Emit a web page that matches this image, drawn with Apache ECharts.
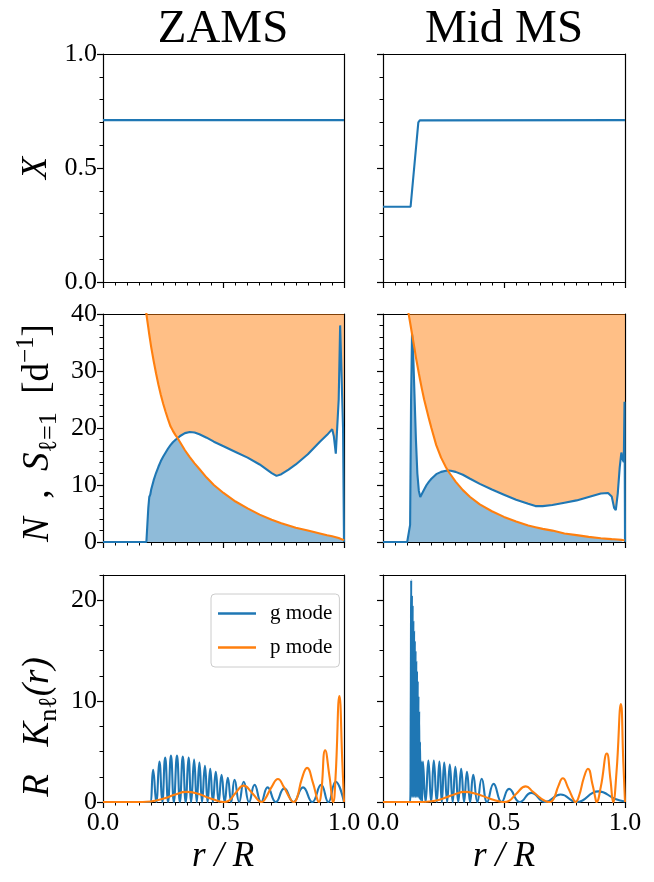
<!DOCTYPE html>
<html><head><meta charset="utf-8">
<script src="https://cdn.jsdelivr.net/npm/echarts@6/dist/echarts.min.js"></script>
<style>html,body{margin:0;padding:0;background:#fff}#c{width:654px;height:882px}</style>
</head><body><div id="c"></div>
<script>
// ---------------- DATA ----------------
const panelTitles = ['ZAMS', 'Mid MS'];
const xTicks = [0, 0.5, 1.0];

// Row 1: hydrogen mass fraction X(r)
const X_zams_r = [0, 1];
const X_zams   = [0.71, 0.71];
const X_mid_r  = [0, 0.114, 0.146, 0.152, 1];
const X_mid    = [0.33, 0.33, 0.70, 0.709, 0.71];

// Row 2: N and S_l=1 on a common grid (null = above plot)
const NS_zams_r = [0,0.10,0.17,0.18,0.184,0.188,0.192,0.196,0.20,0.21,0.22,0.23,0.24,0.25,0.26,0.27,0.28,0.29,0.30,0.31,0.32,0.34,0.36,0.38,0.40,0.43,0.46,0.50,0.55,0.60,0.65,0.70,0.72,0.74,0.77,0.80,0.85,0.90,0.93,0.951,0.958,0.966,0.972,0.978,0.984,0.99,0.996,1.0];
const N_zams    = [0,0,0,0,0,6,7.9,8.3,9.2,10.8,12.1,13.2,14.2,15.0,15.7,16.4,17.0,17.5,17.9,18.2,18.6,19.1,19.3,19.2,18.9,18.3,17.6,16.8,15.8,14.8,13.6,12.1,11.6,11.9,12.7,13.6,15.4,17.6,18.8,19.8,18.5,15.5,15.2,25,38,38.3,20,0];
const S_zams    = [null,null,45,40,38.8,37.6,36.4,35.3,34.2,31.8,29.6,27.6,25.8,24.2,22.8,21.5,20.3,19.5,18.8,18.2,17.5,16.1,14.9,13.8,12.8,11.3,10.0,8.6,7.1,5.9,4.8,3.9,3.6,3.3,2.9,2.5,2.0,1.5,1.2,1.0,0.9,0.85,0.8,0.7,0.6,0.5,0.35,0.3];

const NS_mid_r = [0,0.10,0.104,0.108,0.112,0.116,0.120,0.124,0.130,0.136,0.142,0.148,0.154,0.16,0.17,0.18,0.19,0.20,0.22,0.24,0.26,0.27,0.28,0.30,0.33,0.36,0.40,0.45,0.50,0.55,0.60,0.63,0.66,0.70,0.75,0.80,0.85,0.90,0.93,0.945,0.955,0.962,0.97,0.978,0.985,0.99,0.995,0.998,1.0];
const N_mid    = [0,0,0,0,3,25,36.5,34,26,18,12,9.0,7.9,8.2,9.2,10.0,10.6,11.1,11.9,12.3,12.5,12.55,12.5,12.3,11.8,11.1,10.2,9.2,8.3,7.4,6.7,6.3,6.3,6.5,6.9,7.3,7.9,8.5,8.6,8.0,6.0,5.6,8.5,13,15.7,14.5,14,24.6,0];
const S_mid    = [null,null,40.5,39.5,38.5,37.5,36.5,35.5,34,32.4,31,29.6,28.3,27,25,23.3,21.6,20,17,14.8,13.1,12.4,11.8,10.6,9.1,7.9,6.6,5.4,4.4,3.6,2.9,2.6,2.3,2.0,1.5,1.2,0.9,0.65,0.55,0.5,0.48,0.46,0.44,0.4,0.37,0.35,0.32,0.3,0.3];

// Row 3: kernels R K_nl(r), [r, K]
const Kg_zams = [[0,0],[0.19,0],[0.196,0],[0.208,3.2],[0.221,0],[0.234,4.0],[0.246,0],[0.258,4.4],[0.270,0],[0.282,4.6],[0.294,0],[0.307,4.6],[0.319,0],[0.331,4.5],[0.343,0],[0.355,4.4],[0.366,0],[0.378,4.2],[0.389,0],[0.400,3.9],[0.411,0],[0.423,3.6],[0.434,0],[0.445,3.3],[0.456,0],[0.468,3.0],[0.480,0],[0.492,2.7],[0.505,0],[0.518,2.4],[0.532,0],[0.546,2.2],[0.565,0],[0.584,2.0],[0.606,0],[0.629,1.7],[0.656,0],[0.683,1.45],[0.717,0],[0.752,1.35],[0.79,0],[0.830,1.45],[0.868,0],[0.905,1.7],[0.935,0],[0.965,2.0],[1.0,0]];
const Kp_zams = [[0,0],[0.15,0],[0.18,0.02],[0.22,0.15],[0.26,0.4],[0.30,0.75],[0.345,1.0],[0.39,0.85],[0.44,0.4],[0.48,0.08],[0.50,0],[0.52,0.1],[0.55,0.9],[0.584,1.62],[0.615,1.0],[0.645,0.15],[0.657,0],[0.67,0.2],[0.70,1.5],[0.726,2.28],[0.75,1.5],[0.78,0.2],[0.792,0],[0.805,0.4],[0.825,2.3],[0.847,3.38],[0.87,2.0],[0.89,0.2],[0.896,0],[0.905,0.8],[0.922,5.13],[0.94,2.5],[0.955,0],[0.965,2.5],[0.981,10.5],[0.993,4],[1.0,0]];
const Kg_mid = [[0,0],[0.112,0],[0.1145,8],[0.1165,22],[0.118,0.5],[0.1195,20.5],[0.121,0.5],[0.1225,19.5],[0.124,0.5],[0.1255,18],[0.127,0.5],[0.1285,17],[0.130,0.5],[0.1315,16],[0.133,0.5],[0.1345,15],[0.136,0.5],[0.1375,14],[0.139,0.5],[0.1405,13],[0.142,0.5],[0.1435,12],[0.145,0.5],[0.1465,10.5],[0.148,0.5],[0.1495,9],[0.151,0.3],[0.153,6],[0.155,0.2],[0.158,4.0],[0.1615,0],[0.165,4.0],[0.176,0],[0.1875,4.1],[0.199,0],[0.21,4.1],[0.222,0],[0.233,4.0],[0.243,0],[0.253,3.9],[0.265,0],[0.276,3.7],[0.288,0],[0.299,3.5],[0.311,0],[0.323,3.3],[0.335,0],[0.347,3.0],[0.36,0],[0.373,2.7],[0.39,0],[0.408,2.3],[0.43,0],[0.457,1.8],[0.49,0],[0.521,1.3],[0.565,0],[0.613,0.9],[0.67,0],[0.734,0.75],[0.80,0],[0.89,1.05],[0.96,0.3],[1.0,0.05]];
const Kp_mid = [[0,0],[0.15,0],[0.18,0.02],[0.22,0.15],[0.26,0.45],[0.30,0.8],[0.335,1.0],[0.38,0.85],[0.44,0.35],[0.48,0.06],[0.50,0],[0.52,0.1],[0.55,0.8],[0.59,1.55],[0.62,1.0],[0.67,0.1],[0.69,0],[0.705,0.3],[0.725,1.6],[0.743,2.35],[0.765,1.4],[0.79,0.1],[0.795,0],[0.81,0.6],[0.83,2.4],[0.847,3.3],[0.865,1.8],[0.88,0.1],[0.882,0],[0.9,1.5],[0.925,4.8],[0.94,2.2],[0.951,0],[0.965,3],[0.983,9.7],[0.993,4],[1.0,0]];

// ---------------- LAYOUT / STYLE ----------------
const FONT = '"Liberation Serif","DejaVu Serif",serif';
const BLUE = '#1f77b4', ORANGE = '#ff7f0e';
const GL = [103, 383], GW = [241, 242];
const GT = [54, 314, 575], GH = [228, 228, 227];

const grids = [], xAxes = [], yAxes = [], series = [];
const yCfg = [
  {min:0, max:1, interval:0.5, minor:5, fmt: v => v.toFixed(1)},
  {min:0, max:40, interval:10, minor:5, fmt: v => String(v)},
  {min:0, max:22.5, interval:10, custom:[0,10,20], minorVals:[2.5,5,7.5,12.5,15,17.5,22.5], fmt: v => String(v)}
];
const lineAxis = {show:true, onZero:false, lineStyle:{color:'#000', width:1.2}};
for (let row = 0; row < 3; row++) {
  for (let col = 0; col < 2; col++) {
    const g = row*2 + col;
    grids.push({left: GL[col], top: GT[row], width: GW[col], height: GH[row], containLabel:false});
    xAxes.push({
      type:'value', gridIndex:g, position:'bottom', min:0, max:1, interval:0.5,
      axisLine: lineAxis,
      axisTick:{show:true, inside:false, length:6, lineStyle:{color:'#000', width:1.2}},
      minorTick:{show:true, splitNumber:10, length:3.5, lineStyle:{color:'#000', width:1}},
      splitLine:{show:false}, minorSplitLine:{show:false},
      axisLabel:{show: row===2, color:'#000', fontFamily:FONT, fontSize:26, margin:8,
        formatter: v => xTicks.indexOf(v) >= 0 ? v.toFixed(1) : ''}
    });
    xAxes.push({type:'value', gridIndex:g, position:'top', min:0, max:1,
      axisLine: lineAxis, axisTick:{show:false}, axisLabel:{show:false}, splitLine:{show:false}});
    const c = yCfg[row];
    const yMain = {
      type:'value', gridIndex:g, position:'left', min:c.min, max:c.max, interval:c.interval,
      axisLine: lineAxis,
      axisTick:{show:true, inside:false, length:6, lineStyle:{color:'#000', width:1.2}},
      splitLine:{show:false}, minorSplitLine:{show:false},
      axisLabel:{show: col===0, color:'#000', fontFamily:FONT, fontSize:26, margin:6, formatter:c.fmt}
    };
    if (c.minor) yMain.minorTick = {show:true, splitNumber:c.minor, length:3.5, lineStyle:{color:'#000', width:1}};
    if (c.custom) { yMain.axisTick.customValues = c.custom; yMain.axisLabel.customValues = c.custom; }
    yAxes.push(yMain);
    yAxes.push({type:'value', gridIndex:g, position:'right', min:c.min, max:c.max,
      axisLine: lineAxis, axisTick:{show:false}, axisLabel:{show:false}, splitLine:{show:false}});
  }
}
// minor tick overlays for row 3
[4,5].forEach(g => {
  yAxes.push({type:'value', gridIndex:g, position:'left', min:0, max:22.5,
    axisLine:{show:false, onZero:false},
    axisTick:{show:true, inside:false, length:3.5, customValues: yCfg[2].minorVals, lineStyle:{color:'#000', width:1}},
    axisLabel:{show:false}, splitLine:{show:false}});
});

function pairs(r, v) { const out = []; for (let i = 0; i < r.length; i++) if (v[i] !== null) out.push([r[i], v[i]]); return out; }
function lineS(name, g, data, color, extra) {
  return Object.assign({name, type:'line', xAxisIndex:2*g, yAxisIndex:2*g, data, showSymbol:false, symbol:'none',
    lineStyle:{color, width:2.1}, itemStyle:{color}, clip:true, z:3}, extra || {});
}

// Row 1
series.push(lineS('X', 0, pairs(X_zams_r, X_zams), BLUE));
series.push(lineS('X', 1, pairs(X_mid_r, X_mid), BLUE));

// Row 2
[[NS_zams_r, N_zams, S_zams, 2], [NS_mid_r, N_mid, S_mid, 3]].forEach(([r, N, S, g]) => {
  const lo = [], hi = [];
  for (let i = 0; i < r.length; i++) {
    const s = S[i] === null ? Infinity : S[i];
    lo.push([r[i], Math.min(N[i], s)]);
    hi.push([r[i], S[i] === null ? 40 : Math.max(N[i], s)]);
  }
  series.push({type:'line', name:'gcav', xAxisIndex:2*g, yAxisIndex:2*g, data:lo, symbol:'none',
    lineStyle:{width:0, opacity:0}, areaStyle:{color:'rgba(31,119,180,0.5)', origin:'start', opacity:1}, clip:true, z:1});
  series.push({type:'line', name:'pcav', xAxisIndex:2*g, yAxisIndex:2*g, data:hi, symbol:'none',
    lineStyle:{width:0, opacity:0}, areaStyle:{color:'rgba(255,127,14,0.5)', origin:'end', opacity:1}, clip:true, z:1});
  series.push(lineS('N', g, pairs(r, N), BLUE));
  series.push(lineS('S', g, pairs(r, S), ORANGE, {z:4}));
});

// Row 3
series.push(lineS('g mode', 4, Kg_zams, BLUE, {smooth:0.5}));
series.push(lineS('p mode', 4, Kp_zams, ORANGE, {smooth:0.5, z:4}));
series.push(lineS('g mode', 5, Kg_mid, BLUE, {smooth:0.5}));
series.push(lineS('p mode', 5, Kp_mid, ORANGE, {smooth:0.5, z:4}));

const txt = (text, x, y, size, italic, rot, rich) => ({
  type:'text', x, y, rotation: rot ? Math.PI/2 : 0, z:10,
  style:{text, fill:'#000', font: (italic ? 'italic ' : '') + size + 'px ' + FONT,
    fontFamily: FONT, fontSize: size, fontStyle: italic ? 'italic':'normal',
    align:'center', verticalAlign:'middle', rich}
});
const richSub = {
  i:{fontStyle:'italic', fontSize:37, fontFamily:FONT, lineHeight:48},
  n:{fontSize:37, fontFamily:FONT, lineHeight:48},
  s:{fontSize:26, fontFamily:FONT, lineHeight:24, verticalAlign:'bottom'},
  p:{fontSize:25, fontFamily:FONT, lineHeight:24, verticalAlign:'top'}
};

const graphic = [
  txt(panelTitles[0], 223, 30, 47, false, false),
  txt(panelTitles[1], 504, 30, 47, false, false),
  txt('X', 37, 168, 36, true, true),
  txt('{i|N}{n|  ,  }{i|S}{s|ℓ=1}{n|  [d}{p|−1}{n|]}', 38, 433, 36, false, true, richSub),
  txt('{i|R}{n|   }{i|K}{s|nℓ}{i|(r)}', 38, 727, 36, false, true, richSub),
  txt('r / R', 223, 857, 35, true, false),
  txt('r / R', 504, 857, 35, true, false)
];

const chart = echarts.init(document.getElementById('c'), null, {renderer:'canvas'});
chart.setOption({
  animation:false,
  backgroundColor:'#fff',
  grid: grids, xAxis: xAxes, yAxis: yAxes, series,
  legend:{data:['g mode','p mode'], orient:'vertical', left:211, top:594, icon:'rect', itemWidth:38, itemHeight:2.5, itemGap:13,
    backgroundColor:'#fff', borderColor:'#cccccc', borderWidth:1, borderRadius:4, padding:[9,7,9,7],
    textStyle:{fontFamily:FONT, fontSize:21, color:'#000', padding:[0,0,0,9]}, selectedMode:false},
  graphic
});
</script></body></html>
